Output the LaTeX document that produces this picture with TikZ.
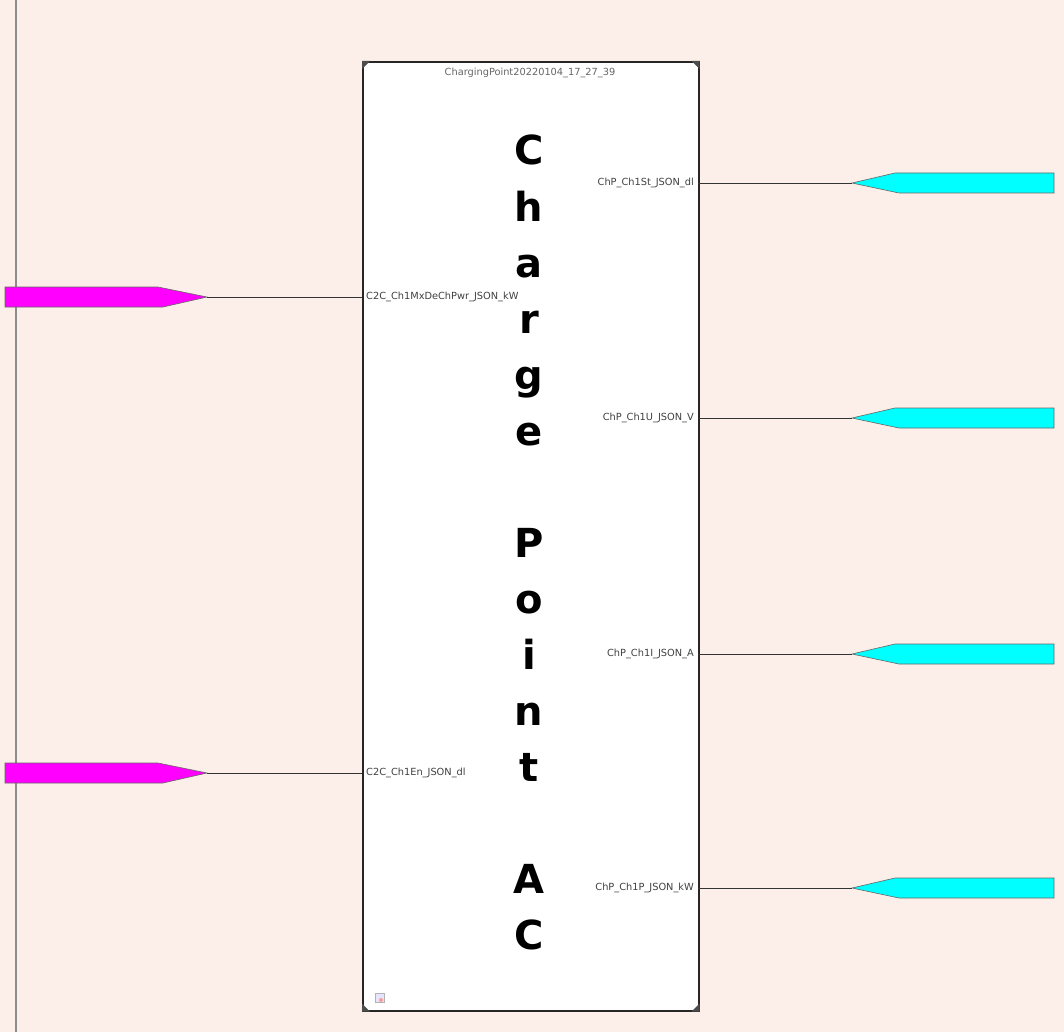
\documentclass[tikz,border=0pt]{standalone}
\usepackage{fontspec}
\setmainfont{DejaVu Sans}
\definecolor{bgpink}{RGB}{252,238,233}
\definecolor{inmag}{RGB}{255,0,255}
\definecolor{outcyan}{RGB}{0,255,255}
\begin{document}
\begin{tikzpicture}[x=1pt,y=-1pt,
  lbl/.style={font=\fontsize{9.8}{11}\selectfont, text=black!75, inner sep=0pt},
  big/.style={font=\fontsize{40}{40}\selectfont\bfseries, inner sep=0pt, anchor=base},
  inport/.style={fill=inmag, draw=black!60, line width=0.6pt},
  outport/.style={fill=outcyan, draw=black!60, line width=0.6pt},
  wire/.style={draw=black!80, line width=0.6pt}]
\fill[bgpink] (0,0) rectangle (1064,1032);
\useasboundingbox (0,0) rectangle (1064,1032);
\draw[black!45, line width=2pt] (16,0) -- (16,1032);
% block
\node[draw=black!85, fill=white, line width=1.6pt, minimum width=336pt, minimum height=949pt, inner sep=0pt, anchor=north west] (blk) at (362,61) {};
\foreach \c/\dx/\dy in {north west/1/1, north east/-1/1, south west/1/-1, south east/-1/-1}{
  \fill[black!70] (blk.\c) -- ++(8*\dx,0) -- ++(-8*\dx,8*\dy) -- cycle;
}
\node[lbl, text=black!60] (title) at (530,73) {ChargingPoint20220104\_17\_27\_39};
% big letters
\foreach \ch [count=\i from 0] in {C,h,a,r,g,e,{},P,o,i,n,t,{},A,C}{
  \node[big] (L\i) at (529,165+\i*56.07) {\ch};
}
% left inputs
\foreach \n/\y/\t in {a/297/C2C\_Ch1MxDeChPwr\_JSON\_kW, b/773/C2C\_Ch1En\_JSON\_dl}{
  \draw[inport] (5,\y-10) -- (158,\y-10) -- (207,\y) -- (163,\y+10) -- (5,\y+10) -- cycle;
  \coordinate (ip\n) at (207,\y);
  \coordinate (ib\n) at (362,\y);
  \draw[wire] (ip\n) -- (ib\n);
  \node[lbl, anchor=west] (il\n) at (366,\y) {\t};
}
% right outputs
\foreach \n/\y/\t in {a/183/ChP\_Ch1St\_JSON\_dl, b/418/ChP\_Ch1U\_JSON\_V, c/654/ChP\_Ch1I\_JSON\_A, d/888/ChP\_Ch1P\_JSON\_kW}{
  \draw[outport] (852,\y) -- (895,\y-10) -- (1054,\y-10) -- (1054,\y+10) -- (899,\y+10) -- cycle;
  \coordinate (op\n) at (852,\y);
  \coordinate (ob\n) at (698,\y);
  \draw[wire] (ob\n) -- (op\n);
  \node[lbl, anchor=east] (ol\n) at (694,\y) {\t};
}
% small icon
\node[draw=black!30, fill=blue!10, minimum size=9pt, inner sep=0pt] (icon) at (380,998) {};
\fill[red!40] (icon.center) ++(1,2) circle (2pt);
\end{tikzpicture}
\end{document}
